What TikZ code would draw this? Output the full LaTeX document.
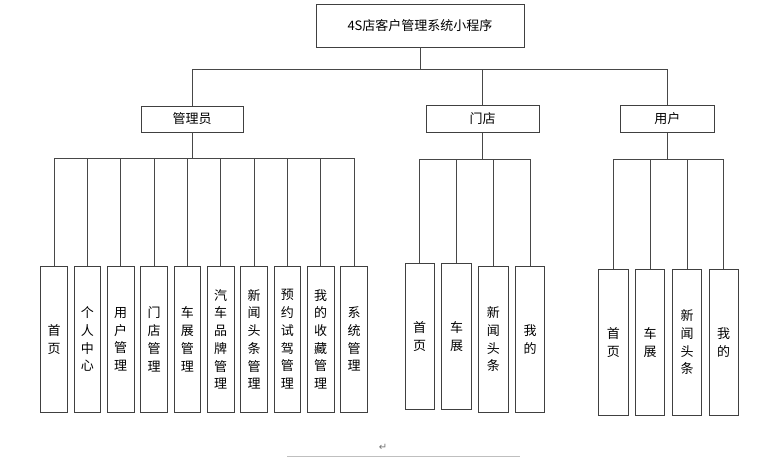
\documentclass[tikz,border=0pt]{standalone}
\usepackage{fontspec}
\setmainfont{Noto Sans CJK SC}
\newfontfamily\dejavu{DejaVu Sans}
\begin{document}
\begin{tikzpicture}[x=1pt,y=-1pt,
  box/.style={draw=black!75, line width=0.9pt, fill=white, inner sep=0pt, align=center,
    font=\fontsize{13}{17.7}\selectfont},
  leafA/.style={box, minimum width=26.7pt, minimum height=145.3pt},
  leafB/.style={box, minimum width=29.3pt, minimum height=145.6pt},
  conn/.style={draw=black!72, line width=0.9pt}]
\useasboundingbox (0,0) rectangle (778,458);
% top
\node[box, minimum width=208pt, minimum height=43pt] (root) at (420,25.5) {4S店客户管理系统小程序};
\node[box, minimum width=102pt, minimum height=26pt] (adm) at (192,119) {管理员};
\node[box, minimum width=113pt, minimum height=26.6pt] (store) at (482.5,119) {门店};
\node[box, minimum width=93.3pt, minimum height=26.6pt] (user) at (667.3,119) {用户};
% admin leaves
\node[leafA] (a1) at (54,339.3) {首\\页};
\node[leafA] (a2) at (87.3,339.3) {个\\人\\中\\心};
\node[leafA] (a3) at (120.7,339.3) {用\\户\\管\\理};
\node[leafA] (a4) at (154,339.3) {门\\店\\管\\理};
\node[leafA] (a5) at (187.3,339.3) {车\\展\\管\\理};
\node[leafA] (a6) at (220.7,339.3) {汽\\车\\品\\牌\\管\\理};
\node[leafA] (a7) at (254,339.3) {新\\闻\\头\\条\\管\\理};
\node[leafA] (a8) at (287.3,339.3) {预\\约\\试\\驾\\管\\理};
\node[leafA] (a9) at (320.7,339.3) {我\\的\\收\\藏\\管\\理};
\node[leafA] (a10) at (354,339.3) {系\\统\\管\\理};
% store leaves
\node[leafB] (s1) at (419.7,336.5) {首\\页};
\node[leafB] (s2) at (456.5,336.5) {车\\展};
\node[leafB] (s3) at (493.3,339.3) {新\\闻\\头\\条};
\node[leafB] (s4) at (530.2,339.3) {我\\的};
% user leaves
\node[leafB] (u1) at (613.3,342.3) {首\\页};
\node[leafB] (u2) at (650.2,342.3) {车\\展};
\node[leafB] (u3) at (687,342.3) {新\\闻\\头\\条};
\node[leafB] (u4) at (723.7,342.3) {我\\的};
% connectors
\foreach \c in {adm,store,user}
  \draw[conn] (root.south) -- ++(0,22) -| (\c.north);
\foreach \c in {a1,a2,a3,a4,a5,a6,a7,a8,a9,a10}
  \draw[conn] (adm.south) -- ++(0,26) -| (\c.north);
\foreach \c in {s1,s2,s3,s4}
  \draw[conn] (store.south) -- ++(0,27) -| (\c.north);
\foreach \c in {u1,u2,u3,u4}
  \draw[conn] (user.south) -- ++(0,27) -| (\c.north);
% page artifacts
\node[text=black!55, font=\dejavu\fontsize{10}{10}\selectfont] (ret) at (383,447) {↵};
\coordinate (l1) at (287,456.7);
\coordinate (l2) at (520,456.7);
\draw[black!25, line width=1.4pt] (l1) -- (l2);
\end{tikzpicture}
\end{document}
